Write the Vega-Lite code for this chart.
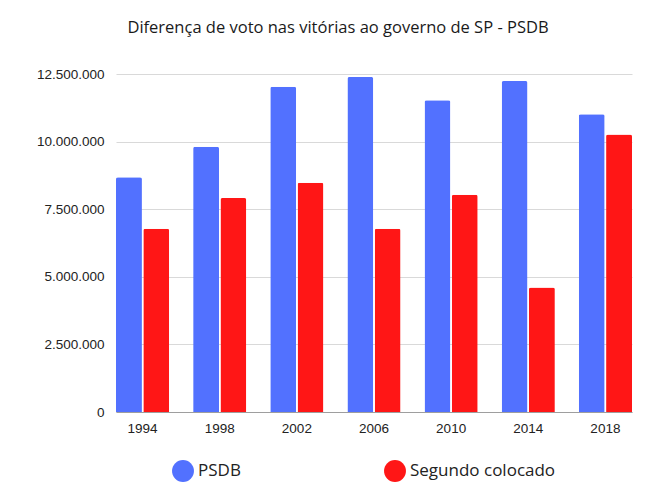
{
  "$schema": "https://vega.github.io/schema/vega-lite/v6.json",
  "autosize": "none",
  "width": 516,
  "height": 338,
  "padding": {"left": 116, "top": 74, "right": 35, "bottom": 88},
  "background": "white",
  "config": {
    "locale": {"number": {"decimal": ",", "thousands": ".", "grouping": [3], "currency": ["R$", ""]}},
    "view": {"stroke": null},
    "font": "Liberation Sans"
  },
  "title": {
    "text": "Diferença de voto nas vitórias ao governo de SP - PSDB",
    "font": "Open Sans",
    "fontSize": 16.5,
    "fontWeight": "normal",
    "color": "#1a1a1a",
    "anchor": "middle",
    "dx": -36,
    "offset": 31
  },
  "data": {
    "values": [
      {"ano": "1994", "serie": "PSDB", "votos": 8680000},
      {"ano": "1994", "serie": "Segundo colocado", "votos": 6780000},
      {"ano": "1998", "serie": "PSDB", "votos": 9810000},
      {"ano": "1998", "serie": "Segundo colocado", "votos": 7910000},
      {"ano": "2002", "serie": "PSDB", "votos": 12030000},
      {"ano": "2002", "serie": "Segundo colocado", "votos": 8480000},
      {"ano": "2006", "serie": "PSDB", "votos": 12390000},
      {"ano": "2006", "serie": "Segundo colocado", "votos": 6780000},
      {"ano": "2010", "serie": "PSDB", "votos": 11530000},
      {"ano": "2010", "serie": "Segundo colocado", "votos": 8030000},
      {"ano": "2014", "serie": "PSDB", "votos": 12240000},
      {"ano": "2014", "serie": "Segundo colocado", "votos": 4600000},
      {"ano": "2018", "serie": "PSDB", "votos": 11010000},
      {"ano": "2018", "serie": "Segundo colocado", "votos": 10260000}
    ]
  },
  "mark": {"type": "bar", "cornerRadiusTopLeft": 2, "cornerRadiusTopRight": 2},
  "encoding": {
    "x": {
      "field": "ano",
      "type": "nominal",
      "scale": {"paddingInner": 0.31, "paddingOuter": 0},
      "axis": {
        "title": null,
        "labelAngle": 0,
        "labelFont": "Liberation Sans",
        "labelFontSize": 13.5,
        "labelColor": "#222222",
        "labelPadding": 9,
        "ticks": false,
        "domainColor": "#9e9e9e",
        "grid": false
      }
    },
    "xOffset": {"field": "serie", "type": "nominal", "scale": {"paddingInner": 0.05}},
    "y": {
      "field": "votos",
      "type": "quantitative",
      "scale": {"domain": [0, 12500000]},
      "axis": {
        "title": null,
        "values": [0, 2500000, 5000000, 7500000, 10000000, 12500000],
        "format": ",d",
        "labelFont": "Liberation Sans",
        "labelFontSize": 13.5,
        "labelColor": "#222222",
        "labelPadding": 12,
        "ticks": false,
        "domain": false,
        "gridColor": "#d9d9d9"
      }
    },
    "color": {
      "field": "serie",
      "type": "nominal",
      "scale": {"domain": ["PSDB", "Segundo colocado"], "range": ["#5271ff", "#ff1616"]},
      "legend": {
        "title": null,
        "orient": "none",
        "direction": "horizontal",
        "legendX": 56,
        "legendY": 386,
        "symbolType": "circle",
        "symbolSize": 480,
        "symbolStrokeWidth": 0,
        "labelFont": "Open Sans",
        "labelFontSize": 17,
        "labelColor": "#222222",
        "labelOffset": 4,
        "columnPadding": 143
      }
    }
  }
}
